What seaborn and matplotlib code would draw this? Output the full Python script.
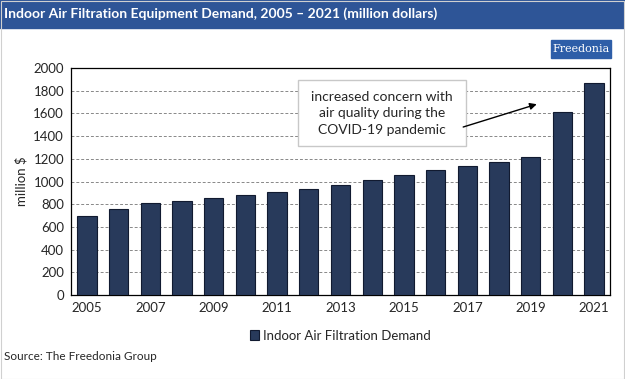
import pandas as pd
import seaborn as sns
import matplotlib.pyplot as plt
from matplotlib.patches import Rectangle

## valores
years = [str(y) for y in range(2005, 2022)]
demand = [695, 757, 808, 831, 855, 878, 905, 934, 972, 1013, 1057, 1104, 1137, 1175, 1219, 1612, 1865]
series_name = 'Indoor Air Filtration Demand'
tick_years = ['2005', '2007', '2009', '2011', '2013', '2015', '2017', '2019', '2021']
note = 'increased concern with\nair quality during the\nCOVID-19 pandemic'

df = pd.DataFrame({'year': years, 'demand': demand, 'series': series_name})

sns.set_style('white')
plt.rcParams['font.family'] = ['Lato', 'DejaVu Sans']

fig = plt.figure(figsize=(6.25, 3.79), dpi=100)
ax = fig.add_axes([0.1136, 0.2216, 0.8624, 0.5990])

bar_color = '#1F3864'
sns.barplot(data=df, x='year', y='demand', hue='series', palette={series_name: bar_color},
            dodge=False, width=0.61, edgecolor='#111a30', linewidth=0.8, ax=ax, zorder=3)

ax.set_ylim(0, 2000)
ax.set_xlim(-0.5, 16.5)
ax.set_yticks(range(0, 2001, 200))
ax.set_xticks([years.index(y) for y in tick_years])
ax.set_xticklabels(tick_years)
ax.tick_params(axis='both', labelsize=9.5, length=0, pad=5)
ax.set_xlabel('')
ax.set_ylabel('million $', fontsize=9.5, labelpad=4)
ax.yaxis.grid(True, linestyle=(0, (3, 2)), color='#888888', linewidth=0.7, zorder=0)
for s in ax.spines.values():
    s.set_visible(True)
    s.set_color('black')
    s.set_linewidth(0.9)

leg = ax.legend(loc='upper center', bbox_to_anchor=(0.5, -0.1), frameon=False, fontsize=9.5,
                handlelength=0.7, handleheight=0.7, handletextpad=0.3)

# anotacao: caixa + texto + seta
ax.add_patch(Rectangle((6.65, 1312), 5.31, 582, facecolor='white', edgecolor='#c8c8c8',
                       lw=1.0, zorder=5))
ax.text(9.31, 1603, note, ha='center', va='center', fontsize=10, linespacing=1.45, zorder=6)
ax.annotate('', xy=(14.19, 1681), xytext=(11.87, 1480),
            arrowprops=dict(arrowstyle='-|>', color='black', lw=1.0, mutation_scale=10,
                            shrinkA=0, shrinkB=0), zorder=6)

# faixa do titulo
fig.patches.append(Rectangle((0, 1 - 28 / 379), 1, 28 / 379, transform=fig.transFigure,
                             color='#2E5597', zorder=0))
fig.text(0.006, 1 - 14 / 379, 'Indoor Air Filtration Equipment Demand, 2005 \u2013 2021 (million dollars)',
         color='white', fontsize=10, fontweight='bold', va='center', ha='left')

# logo
fig.patches.append(Rectangle((551 / 625, 1 - 58 / 379), 60 / 625, 18 / 379, transform=fig.transFigure,
                             color='#2E5EA8', zorder=1))
fig.text(581 / 625, 1 - 49 / 379, 'Freedonia', color='white', fontsize=8, family='DejaVu Serif',
         ha='center', va='center')

fig.text(0.006, 1 - 356 / 379, 'Source: The Freedonia Group', fontsize=8.5, ha='left', va='center')

# borda externa
fig.patches.append(Rectangle((0.001, 0.001), 0.997, 0.997, transform=fig.transFigure,
                             fill=False, ec='#d0d0d0', lw=0.8))

plt.savefig('out.png', dpi=100)
